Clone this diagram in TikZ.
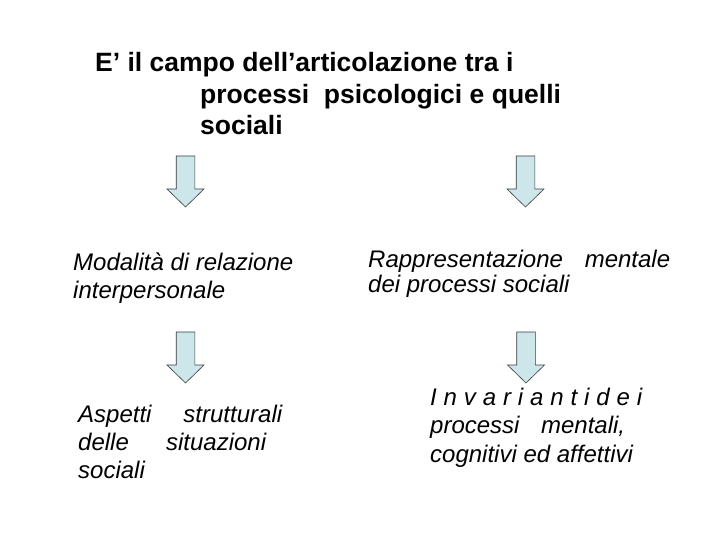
\documentclass[tikz,border=0pt]{standalone}
\usepackage{fontspec}
\setmainfont{Liberation Sans}
\definecolor{arrowblue}{RGB}{204,230,234}
\definecolor{arrowline}{RGB}{60,60,60}
\tikzset{
  x=1pt, y=-1pt,
  title/.style={anchor=base west, inner sep=0pt, font=\fontsize{26.5}{30}\selectfont\bfseries},
  body/.style={anchor=base west, inner sep=0pt, font=\fontsize{24}{28}\selectfont\itshape},
  downarrow/.pic={\draw[fill=arrowblue, draw=arrowline, line width=0.6pt, line join=miter]
    (-9.3,0) -- (9.3,0) -- (9.3,33) -- (18.5,33) -- (0,51) -- (-18.5,33) -- (-9.3,33) -- cycle;}
}
\begin{document}
\begin{tikzpicture}
\useasboundingbox[fill=white] (0,0) rectangle (720,540);
% title
\node[title] (t1) at (95,72) {E’ il campo dell’articolazione tra i};
\node[title] (t2) at (200,104) {processi\ \ psicologici e quelli};
\node[title] (t3) at (200,135) {sociali};
% arrows
\pic (a1) at (185.5,156) {downarrow};
\pic (a2) at (525.5,156) {downarrow};
\pic (a3) at (185.5,332) {downarrow};
\pic (a4) at (526,332) {downarrow};
% middle texts
\node[body] (m1) at (73,270) {Modalità di relazione};
\node[body] (m2) at (73,298) {interpersonale};
\node[body] (r1) at (368,267) {\makebox[302pt][s]{Rappresentazione mentale}};
\node[body] (r2) at (368,292) {dei processi sociali};
% bottom texts
\node[body] (b1) at (78,422) {\makebox[204pt][s]{Aspetti strutturali}};
\node[body] (b2) at (78,450) {\makebox[188pt][s]{delle situazioni}};
\node[body] (b3) at (78,478) {sociali};
\node[body] (c1) at (430,405) {\makebox[212pt][s]{I n v a r i a n t i d e i}};
\node[body] (c2) at (430,433) {\makebox[195pt][s]{processi mentali,}};
\node[body] (c3) at (430,462) {cognitivi ed affettivi};
\end{tikzpicture}
\end{document}
